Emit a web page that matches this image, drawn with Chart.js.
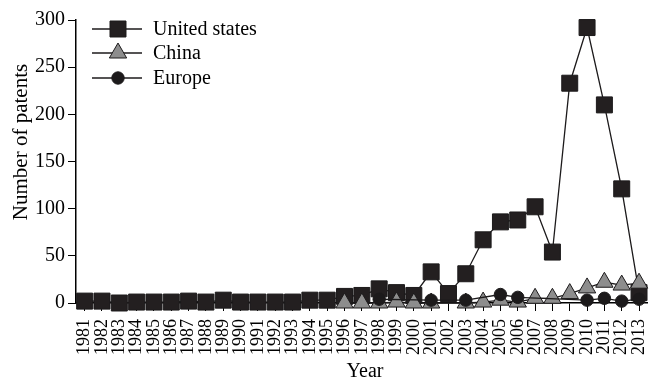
<!DOCTYPE html>
<html>
<head>
<meta charset="utf-8">
<script src="https://cdn.jsdelivr.net/npm/chart.js@4.4.1/dist/chart.umd.min.js"></script>
<style>
  html, body { margin: 0; padding: 0; background: #fff; }
  #wrap { width: 660px; height: 379px; }
</style>
</head>
<body>
<div id="wrap"><canvas id="c" width="660" height="379"></canvas></div>
<script>
// Patent counts per year
const years = ['1981','1982','1983','1984','1985','1986','1987','1988','1989','1990',
  '1991','1992','1993','1994','1995','1996','1997','1998','1999','2000',
  '2001','2002','2003','2004','2005','2006','2007','2008','2009','2010',
  '2011','2012','2013'];

const unitedStates = [2, 2, 0, 1, 1, 1, 2, 1, 3, 1,
  1, 1, 1, 3, 3, 7, 8, 15, 11, 8,
  33, 10, 31, 67, 86, 88, 102, 54, 233, 292,
  210, 121, 11];

const china = [null, null, null, null, null, null, null, null, null, null,
  null, null, null, null, null, 0, 0, 0, 1, 0,
  0, null, 0, 1, 3, 1, 5, 5, 10, 16,
  22, 19, 21];

const europe = [null, null, null, null, null, null, null, null, null, null,
  null, null, null, null, null, null, null, 4, null, null,
  3, null, 3, null, 9, 6, null, null, null, 3,
  5, 2, 4];

const yTickValues = [0, 50, 100, 150, 200, 250, 300];

const SERIF = '"Liberation Serif", "Times New Roman", serif';
const INK = '#1c1a1b';
const GREY = '#8d8d8d';

const seriesStyle = [
  { label: 'United states', data: unitedStates, pointStyle: 'rect', radius: 11.3, fill: '#231f20', order: 3 },
  { label: 'China', data: china, pointStyle: 'triangle', radius: 10, fill: GREY, order: 2 },
  { label: 'Europe', data: europe, pointStyle: 'circle', radius: 6.2, fill: INK, order: 1 }
];

// Marker drawing for the legend keys, same geometry as Chart.js point styles
function drawMarker(ctx, style, r, x, y, fill) {
  ctx.beginPath();
  if (style === 'rect') {
    const s = Math.SQRT1_2 * r;
    ctx.rect(x - s, y - s, 2 * s, 2 * s);
  } else if (style === 'triangle') {
    let a = 0;
    ctx.moveTo(x + Math.sin(a) * r, y - Math.cos(a) * r);
    a += 2 * Math.PI / 3;
    ctx.lineTo(x + Math.sin(a) * r, y - Math.cos(a) * r);
    a += 2 * Math.PI / 3;
    ctx.lineTo(x + Math.sin(a) * r, y - Math.cos(a) * r);
    ctx.closePath();
  } else {
    ctx.arc(x, y, r, 0, Math.PI * 2);
  }
  ctx.fillStyle = fill;
  ctx.fill();
  ctx.lineWidth = 1;
  ctx.strokeStyle = INK;
  ctx.stroke();
}

const decorations = {
  id: 'decorations',
  afterDraw(chart) {
    const ctx = chart.ctx;
    const xs = chart.scales.x;
    ctx.save();

    // year labels, reading upwards
    ctx.fillStyle = '#000';
    ctx.font = '18px ' + SERIF;
    ctx.textAlign = 'right';
    ctx.textBaseline = 'middle';
    years.forEach((yr, i) => {
      ctx.save();
      ctx.translate(xs.getPixelForValue(i), 319);
      ctx.rotate(-Math.PI / 2);
      ctx.fillText(yr, 0, 0);
      ctx.restore();
    });

    // axis titles
    ctx.font = '20px ' + SERIF;
    ctx.textAlign = 'center';
    ctx.textBaseline = 'alphabetic';
    ctx.fillText('Year', 365, 377);

    ctx.save();
    ctx.font = '21px ' + SERIF;
    ctx.textBaseline = 'middle';
    ctx.translate(21, 142);
    ctx.rotate(-Math.PI / 2);
    ctx.fillText('Number of patents', 0, 0);
    ctx.restore();

    // legend
    const rows = [29, 53, 78];
    seriesStyle.forEach((s, i) => {
      const y = rows[i];
      ctx.beginPath();
      ctx.moveTo(92, y);
      ctx.lineTo(142, y);
      ctx.lineWidth = 1.3;
      ctx.strokeStyle = INK;
      ctx.stroke();
      drawMarker(ctx, s.pointStyle, s.radius, 118, y, s.fill);
      ctx.fillStyle = '#000';
      ctx.font = '20px ' + SERIF;
      ctx.textAlign = 'left';
      ctx.textBaseline = 'middle';
      ctx.fillText(s.label, 153, y + 1);
    });

    ctx.restore();
  }
};

new Chart(document.getElementById('c'), {
  type: 'line',
  data: {
    labels: years,
    datasets: seriesStyle.map(s => ({
      label: s.label,
      data: s.data,
      order: s.order,
      borderColor: INK,
      borderWidth: 1.3,
      tension: 0,
      spanGaps: true,
      clip: false,
      pointStyle: s.pointStyle,
      pointRadius: s.radius,
      pointBackgroundColor: s.fill,
      pointBorderColor: INK,
      pointBorderWidth: 1
    }))
  },
  options: {
    responsive: false,
    animation: false,
    devicePixelRatio: 1,
    layout: { padding: { top: 20, right: 1, left: 0, bottom: 0 } },
    plugins: {
      legend: { display: false },
      tooltip: { enabled: false }
    },
    scales: {
      x: {
        type: 'category',
        offset: true,
        afterFit(scale) { scale.height = 76; },
        grid: {
          display: true,
          drawOnChartArea: false,
          offset: false,
          tickLength: 8,
          color: '#000',
          lineWidth: 1
        },
        border: { display: true, color: '#000', width: 1.5 },
        ticks: { display: false, autoSkip: false }
      },
      y: {
        min: 0,
        max: 300,
        afterFit(scale) { scale.width = 76; },
        afterBuildTicks(scale) { scale.ticks = yTickValues.map(v => ({ value: v })); },
        grid: {
          display: true,
          drawOnChartArea: false,
          tickLength: 8,
          color: '#000',
          lineWidth: 1
        },
        border: { display: true, color: '#000', width: 1.5 },
        ticks: {
          color: '#000',
          padding: 3,
          font: { family: SERIF, size: 20 }
        }
      }
    }
  },
  plugins: [decorations]
});
</script>
</body>
</html>
